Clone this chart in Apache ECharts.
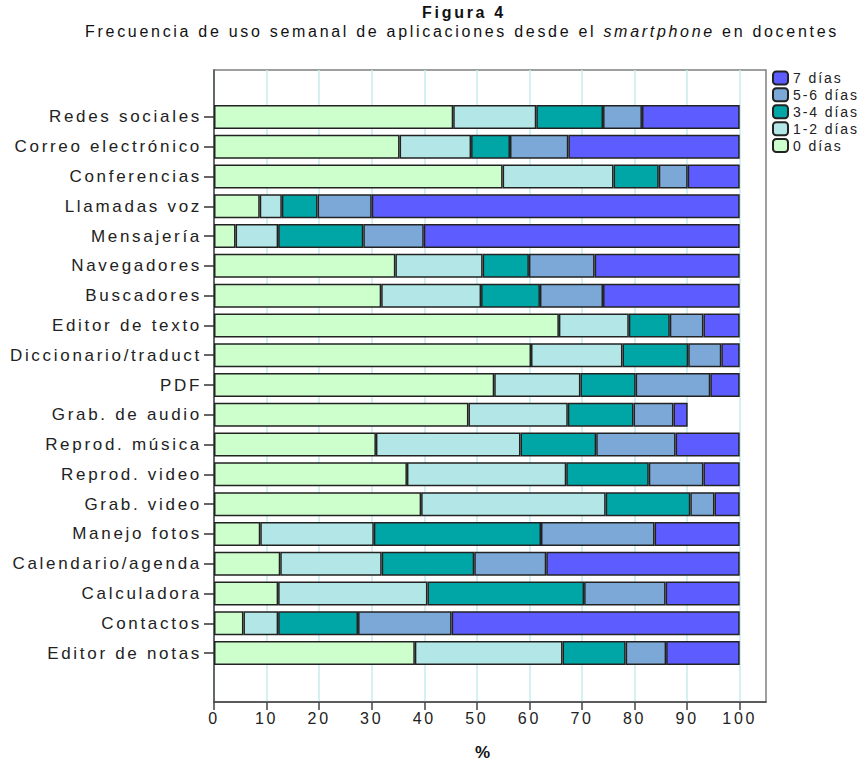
<!DOCTYPE html>
<html><head><meta charset="utf-8">
<script src="https://cdn.jsdelivr.net/npm/echarts@6/dist/echarts.min.js"></script>
<style>
html,body{margin:0;padding:0;background:#fff}
#main{width:862px;height:763px}
#main text{letter-spacing:2.7px}
#main text[style*="sans-serif"]{letter-spacing:1.9px}
</style>
</head><body><div id="main"></div>
<script>
const categories = ['Redes sociales','Correo electrónico','Conferencias','Llamadas voz','Mensajería','Navegadores','Buscadores','Editor de texto','Diccionario/traduct','PDF','Grab. de audio','Reprod. música','Reprod. video','Grab. video','Manejo fotos','Calendario/agenda','Calculadora','Contactos','Editor de notas'];
const dias0  = [45.5,35.3,54.9, 8.7, 4.1,34.5,31.8,65.6,60.3,53.3,48.4,30.8,36.7,39.4, 8.8,12.6,12.2, 5.6,38.2];
const dias12 = [15.8,13.6,21.1, 4.2, 8.1,16.6,19.0,13.3,17.4,16.4,18.9,27.5,30.3,35.1,21.6,19.3,28.4, 6.6,28.1];
const dias34 = [12.7, 7.4, 8.6, 6.8,16.2, 8.8,11.2, 7.8,12.5,10.5,12.5,14.4,15.7,16.1,31.8,17.6,29.8,15.2,12.0];
const dias56 = [ 7.4,11.1, 5.5,10.3,11.5,12.5,12.0, 6.4, 6.3,14.2, 7.6,15.1,10.4, 4.6,21.6,13.7,15.5,17.8, 7.7];
const dias7  = [18.6,32.6, 9.9,70.0,60.1,27.6,26.0, 6.9, 3.5, 5.6, 2.7,12.2, 6.9, 4.8,16.2,36.8,14.1,54.8,14.0];
const seriesNames = ['0 días','1-2 días','3-4 días','5-6 días','7 días'];
const seriesData = [dias0, dias12, dias34, dias56, dias7];
const xTickValues = [0,10,20,30,40,50,60,70,80,90,100];
const colors = ['#CCFFCC','#B3E6E6','#00A6A6','#7BA8D6','#5C5CFF'];

const LS = 2.7, LS_LEGEND = 1.9;
const mctx = document.createElement('canvas').getContext('2d');
if (echarts.setPlatformAPI) {
  echarts.setPlatformAPI({
    measureText: function (text, font) {
      font = font || '12px sans-serif';
      mctx.font = font;
      const t = text == null ? '' : String(text);
      const s = font.indexOf('sans-serif') >= 0 ? LS_LEGEND : LS;
      return {width: mctx.measureText(t).width + s * Array.from(t).length};
    }
  });
}

const chart = echarts.init(document.getElementById('main'), null, {renderer: 'svg'});
const F = 'Liberation Sans';
chart.setOption({
  animation: false,
  backgroundColor: '#fff',
  title: [
    {text: 'Figura 4', left: 464, top: 3, textAlign: 'center', padding: 0,
     textStyle: {fontFamily: F, fontWeight: 'bold', fontSize: 16, color: '#111'}},
    {text: '{n|Frecuencia de uso semanal de aplicaciones desde el }{i|smartphone}{n| en docentes}',
     left: 462, top: 22, textAlign: 'center', padding: 0,
     textStyle: {fontWeight: 'normal', rich: {
       n: {fontFamily: F, fontSize: 16, fontWeight: 'normal', color: '#111'},
       i: {fontFamily: F, fontSize: 16, fontWeight: 'normal', fontStyle: 'italic', color: '#111'}
     }}}
  ],
  legend: {
    data: seriesNames.slice().reverse(),
    orient: 'vertical', left: 772, top: 70, padding: 0,
    itemWidth: 15, itemHeight: 13, itemGap: 1,
    textStyle: {fontFamily: 'Liberation Sans, sans-serif', fontSize: 14, color: '#222'}
  },
  grid: [
    {left: 214, top: 70, width: 552, height: 632, show: true, borderColor: '#808080', borderWidth: 1.5, backgroundColor: '#fff'},
    {left: 214, top: 102, width: 552, height: 566}
  ],
  xAxis: [
    {gridIndex: 0, type: 'value', min: 0, max: 105, interval: 10,
     axisLine: {show: true, lineStyle: {color: '#444', width: 1.5}},
     axisTick: {show: true, length: 8, customValues: xTickValues, lineStyle: {color: '#444', width: 1.5}},
     axisLabel: {show: true, customValues: xTickValues, margin: 7, fontFamily: F, fontSize: 16, color: '#222'},
     splitLine: {show: true, lineStyle: {color: '#c6ebee', width: 1.5}}},
    {gridIndex: 1, type: 'value', min: 0, max: 105, show: false}
  ],
  yAxis: [
    {gridIndex: 0, type: 'value', axisLine: {show: true, lineStyle: {color: '#444', width: 1.5}},
     axisTick: {show: false}, axisLabel: {show: false}, splitLine: {show: false}},
    {gridIndex: 1, type: 'category', data: categories, inverse: true,
     axisLine: {show: false},
     axisTick: {show: true, alignWithLabel: true, length: 10, lineStyle: {color: '#333', width: 1.5}},
     axisLabel: {fontFamily: F, fontSize: 17, color: '#222', margin: 12}}
  ],
  series: seriesNames.map((name, i) => ({
    name: name, type: 'bar', stack: 'total', xAxisIndex: 1, yAxisIndex: 1,
    barWidth: 24, data: seriesData[i],
    itemStyle: {color: colors[i], borderColor: '#222', borderWidth: 1.5}
  })),
  graphic: [
    {type: 'text', x: 484, y: 752, style: {text: '%', font: 'bold 17px "Liberation Sans"', fill: '#111', textAlign: 'center', textVerticalAlign: 'middle'}}
  ]
});
</script></body></html>
